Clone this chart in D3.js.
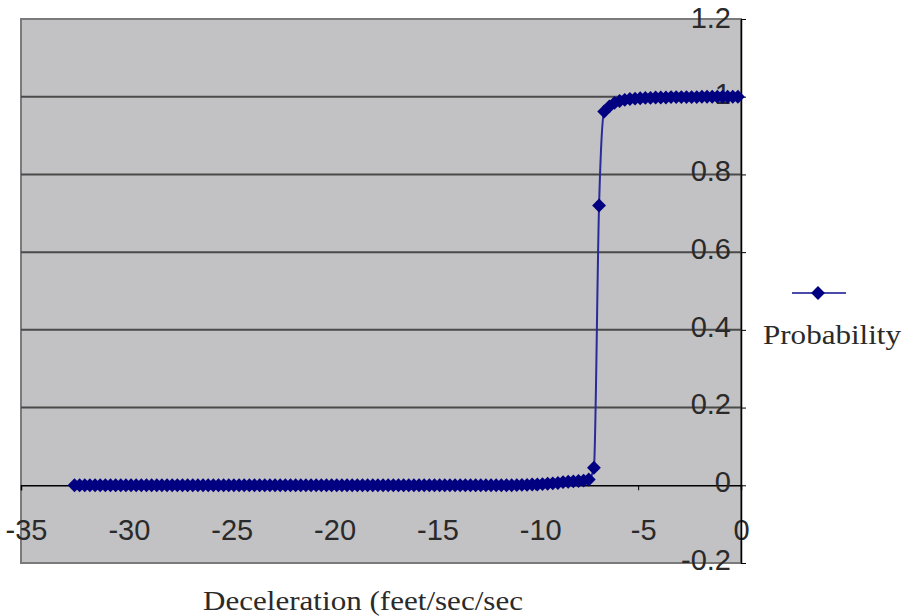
<!DOCTYPE html>
<html><head><meta charset="utf-8">
<script src="https://cdn.jsdelivr.net/npm/d3@7"></script>
<style>
html,body{margin:0;padding:0;background:#fff;}
svg{display:block;}
</style></head>
<body>
<svg id="chart" width="903" height="616"></svg>
<script>
const deceleration = [
-32.4,-32.15,-31.9,-31.65,-31.4,-31.15,-30.9,-30.65,-30.4,-30.15,
-29.9,-29.65,-29.4,-29.15,-28.9,-28.65,-28.4,-28.15,-27.9,-27.65,
-27.4,-27.15,-26.9,-26.65,-26.4,-26.15,-25.9,-25.65,-25.4,-25.15,
-24.9,-24.65,-24.4,-24.15,-23.9,-23.65,-23.4,-23.15,-22.9,-22.65,
-22.4,-22.15,-21.9,-21.65,-21.4,-21.15,-20.9,-20.65,-20.4,-20.15,
-19.9,-19.65,-19.4,-19.15,-18.9,-18.65,-18.4,-18.15,-17.9,-17.65,
-17.4,-17.15,-16.9,-16.65,-16.4,-16.15,-15.9,-15.65,-15.4,-15.15,
-14.9,-14.65,-14.4,-14.15,-13.9,-13.65,-13.4,-13.15,-12.9,-12.65,
-12.4,-12.15,-11.9,-11.65,-11.4,-11.15,-10.9,-10.65,-10.4,-10.15,
-9.9,-9.65,-9.4,-9.15,-8.9,-8.65,-8.4,-8.15,-7.9,-7.65,
-7.4,-7.15,-6.9,-6.65,-6.4,-6.15,-5.9,-5.65,-5.4,-5.15,
-4.9,-4.65,-4.4,-4.15,-3.9,-3.65,-3.4,-3.15,-2.9,-2.65,
-2.4,-2.15,-1.9,-1.65,-1.4,-1.15,-0.9,-0.65,-0.4,-0.15
];
const probability = [
0,0,0,0,0,0,0,0,0,0,
0,0,0,0,0,0,0,0,0,0,
0,0,0,0,0,0,0,0,0,0,
0,0,0,0,0,0,0,0,0,0,
0,0,0,0,0,0,0,0,0,0,
0,0,0,0,0,0,0,0,0,0,
0,0,0,0,0,0,0,0,0,0,
0,0,0,0,0,0,0,0,0,0,
0,0,0,0,0,0,0.0005,0.001,0.001,0.002,
0.002,0.003,0.004,0.005,0.006,0.008,0.009,0.010,0.011,0.012,
0.015,0.045,0.72,0.962,0.975,0.984,0.989,0.992,0.994,0.995,
0.996,0.997,0.997,0.998,0.998,0.998,0.999,0.999,0.999,0.999,
0.999,0.999,1.0,1.0,1.0,1.0,1.0,1.0,1.0,1.0
];
const xTicks = [-35,-30,-25,-20,-15,-10,-5,0];
const yTicks = [-0.2,0,0.2,0.4,0.6,0.8,1,1.2];
const gridValues = [0.2,0.4,0.6,0.8,1];
const seriesName = "Probability";
const xTitle = "Deceleration (feet/sec/sec";

const svg = d3.select("#chart");
const L = 21, R = 741, T = 19, B = 563;
const x = d3.scaleLinear().domain([-35,0]).range([L,R]);
const y = d3.scaleLinear().domain([-0.2,1.2]).range([B,T]);

// plot area
svg.append("rect").attr("x",L).attr("y",T).attr("width",R-L).attr("height",B-T)
  .attr("fill","#c2c1c3").attr("stroke","#7a7a7a").attr("stroke-width",2);

// gridlines
svg.append("g").selectAll("line").data(gridValues).join("line")
  .attr("x1",L).attr("x2",R).attr("y1",d=>y(d)).attr("y2",d=>y(d))
  .attr("stroke","#4a4a4a").attr("stroke-width",2);

const tickFont = "Liberation Sans, Arial, sans-serif";
// x axis at y=0
const xAxis = svg.append("g").attr("transform",`translate(0,${y(0)})`)
  .call(d3.axisBottom(x).tickValues(xTicks).tickSize(5).tickPadding(29).tickFormat(d=>String(d)));
xAxis.select(".domain").attr("stroke","#000").attr("stroke-width",1.5);
xAxis.selectAll(".tick line").attr("stroke","#000");
xAxis.selectAll(".tick text").attr("font-family",tickFont)
  .attr("font-size",29).attr("fill","#2a2a2a").attr("dx",d=>d<0?5:0);

// y axis at x=0 (right edge)
const yAxis = svg.append("g").attr("transform",`translate(${x(0)},0)`)
  .call(d3.axisLeft(y).tickValues(yTicks).tickSize(0).tickPadding(10).tickFormat(d=>String(d)));
yAxis.select(".domain").attr("stroke","#000").attr("stroke-width",1.5);
yAxis.selectAll(".tick text").attr("font-family",tickFont)
  .attr("font-size",29).attr("fill","#2a2a2a").attr("dy",d=>d===1.2?"0.3em":"0.22em");
const yTickMarks = svg.append("g").attr("transform",`translate(${x(0)},0)`)
  .call(d3.axisRight(y).tickValues(yTicks).tickSize(5).tickFormat(""));
yTickMarks.select(".domain").remove();
yTickMarks.selectAll(".tick line").attr("stroke","#000");

// series
const data = deceleration.map((d,i)=>({x:d,y:probability[i]}));
const line = d3.line().x(d=>x(d.x)).y(d=>y(d.y)).curve(d3.curveMonotoneX);
svg.append("path").datum(data).attr("d",line).attr("fill","none")
  .attr("stroke","#2a2a9a").attr("stroke-width",2);
const marker = d3.symbol().type(d3.symbolSquare).size(96);
svg.append("g").selectAll("path").data(data).join("path")
  .attr("d",marker).attr("transform",d=>`translate(${x(d.x)},${y(d.y)}) rotate(45)`)
  .attr("fill","#000080");

// legend
svg.append("line").attr("x1",792).attr("x2",846).attr("y1",293).attr("y2",293)
  .attr("stroke","#4b4bab").attr("stroke-width",2);
svg.append("path").attr("d",marker).attr("transform","translate(818,293) rotate(45)").attr("fill","#000080");
svg.append("text").attr("x",763).attr("y",344).attr("font-family","Liberation Serif, Times New Roman, serif")
  .attr("font-size",27).attr("fill","#2a2a2a").attr("textLength",138).attr("lengthAdjust","spacingAndGlyphs")
  .text(seriesName);

// x title
svg.append("text").attr("x",203).attr("y",610).attr("font-family","Liberation Serif, Times New Roman, serif")
  .attr("font-size",28).attr("fill","#2a2a2a").attr("textLength",320).attr("lengthAdjust","spacingAndGlyphs")
  .text(xTitle);
</script>
</body></html>
